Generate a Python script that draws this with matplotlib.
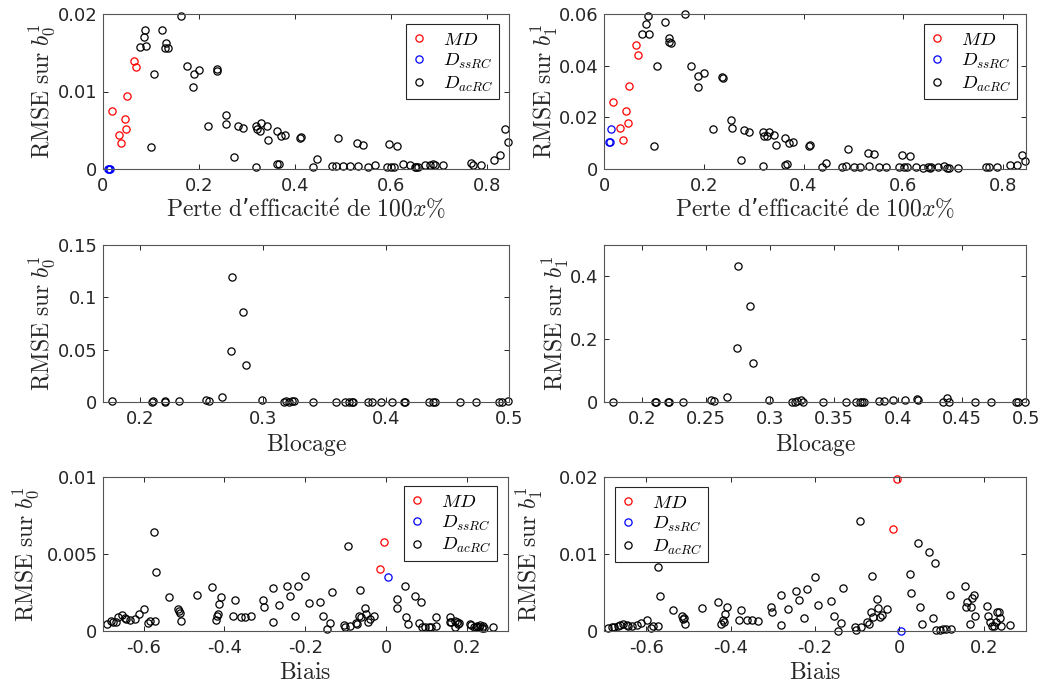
import matplotlib
matplotlib.use("Agg")
import matplotlib.pyplot as plt
from matplotlib.ticker import FuncFormatter

plt.rcParams['mathtext.fontset'] = 'cm'
plt.rcParams['font.family'] = ['DejaVu Sans']

# --- Perte d'efficacite (rangee du haut) ---
perte_md = [0.019, 0.033, 0.038, 0.045, 0.048, 0.050, 0.065, 0.069]
perte_md_b0 = [0.0075, 0.0044, 0.0033, 0.0065, 0.0052, 0.0094, 0.0140, 0.0131]
perte_md_b1 = [0.0259, 0.0160, 0.0112, 0.0223, 0.0180, 0.0322, 0.0479, 0.0442]
perte_ss = [0.011, 0.012, 0.015]
perte_ss_b0 = [0.0, 0.0, 0.0]
perte_ss_b1 = [0.0103, 0.0106, 0.0155]
perte_ac = [0.077, 0.085, 0.088, 0.090, 0.101, 0.107, 0.122, 0.130, 0.131, 0.135,
            0.162, 0.174, 0.188, 0.189, 0.201, 0.219, 0.237, 0.238, 0.2555, 0.257,
            0.274, 0.281, 0.291, 0.319, 0.3195, 0.3205, 0.327, 0.330, 0.3415, 0.344,
            0.362, 0.363, 0.366, 0.371, 0.379, 0.411, 0.413, 0.437, 0.445, 0.478,
            0.485, 0.489, 0.501, 0.514, 0.530, 0.532, 0.542, 0.552, 0.566, 0.591,
            0.5965, 0.601, 0.607, 0.613, 0.626, 0.640, 0.650, 0.653, 0.656, 0.670,
            0.681, 0.687, 0.692, 0.709, 0.766, 0.771, 0.787, 0.814, 0.828, 0.8376, 0.844]
perte_ac_b0 = [0.0157, 0.0170, 0.0179, 0.0159, 0.0028, 0.0123, 0.0179, 0.0156, 0.0162, 0.0156,
               0.0198, 0.0133, 0.0106, 0.0122, 0.0128, 0.0055, 0.0129, 0.0127, 0.0070, 0.0058,
               0.0016, 0.0056, 0.0053, 0.0056, 0.0003, 0.0051, 0.0049, 0.0059, 0.0055, 0.0037,
               0.0049, 0.0006, 0.0006, 0.0043, 0.0044, 0.0040, 0.0041, 0.0003, 0.0013, 0.0004,
               0.0004, 0.0040, 0.0004, 0.0004, 0.0033, 0.0004, 0.0031, 0.0003, 0.0005, 0.0003,
               0.0032, 0.0003, 0.0003, 0.0030, 0.0006, 0.0005, 0.0003, 0.0003, 0.0003, 0.0005,
               0.0005, 0.0006, 0.0005, 0.0005, 0.0008, 0.0005, 0.0005, 0.0011, 0.0018, 0.0052, 0.0035]
perte_ac_b1 = [0.0524, 0.0563, 0.0591, 0.0524, 0.0088, 0.0400, 0.0569, 0.0493, 0.0509, 0.0488,
               0.0600, 0.0398, 0.0317, 0.0361, 0.0371, 0.0155, 0.0355, 0.0353, 0.0191, 0.0160,
               0.0034, 0.0152, 0.0142, 0.0143, 0.0010, 0.0126, 0.0126, 0.0143, 0.0133, 0.0091,
               0.0119, 0.0016, 0.0019, 0.0102, 0.0104, 0.0090, 0.0091, 0.0006, 0.0023, 0.0008,
               0.0010, 0.0076, 0.0008, 0.0008, 0.0061, 0.0012, 0.0058, 0.0008, 0.0008, 0.0008,
               0.0054, 0.0008, 0.0008, 0.0049, 0.0008, 0.0004, 0.0008, 0.0004, 0.0006, 0.0008,
               0.0010, 0.0004, 0.0004, 0.0004, 0.0008, 0.0008, 0.0008, 0.0014, 0.0017, 0.0053, 0.0031]

# --- Blocage (rangee du milieu) ---
blocage = [0.177, 0.210, 0.2105, 0.220, 0.2205, 0.232, 0.254, 0.256, 0.2665, 0.274,
           0.275, 0.284, 0.2865, 0.299, 0.317, 0.319, 0.321, 0.324, 0.3255, 0.341,
           0.359, 0.367, 0.370, 0.372, 0.3735, 0.385, 0.389, 0.396, 0.405, 0.415,
           0.4155, 0.435, 0.438, 0.440, 0.460, 0.473, 0.492, 0.494, 0.4995]
blocage_b0 = [0.0005, 0.0004, 0.0006, 0.0004, 0.0006, 0.0007, 0.0022, 0.0010, 0.0045, 0.0487,
              0.119, 0.0863, 0.035, 0.0022, 0.0002, 0.0005, 0.0003, 0.0010, 0.0007, 0.0002,
              0.0002, 0.0002, 0.0002, 0.0002, 0.0002, 0.0002, 0.0002, 0.0002, 0.0002, 0.0002,
              0.0003, 0.0002, 0.0002, 0.0003, 0.0002, 0.0002, 0.0004, 0.0004, 0.0005]
blocage_b1 = [0.0005, 0.0005, 0.001, 0.001, 0.0005, 0.001, 0.0074, 0.002, 0.0149, 0.173,
              0.432, 0.305, 0.123, 0.0074, 0.0005, 0.001, 0.002, 0.0074, 0.001, 0.001,
              0.001, 0.001, 0.001, 0.001, 0.001, 0.004, 0.004, 0.0074, 0.0074, 0.0096,
              0.0074, 0.0005, 0.0138, 0.001, 0.0005, 0.0005, 0.0005, 0.0005, 0.001]

# --- Biais (rangee du bas) ---
biais_md = [-0.015, -0.005]
biais_md_b0 = [0.0040, 0.0058]
biais_md_b1 = [0.0132, 0.0197]
biais_ss = [0.004]
biais_ss_b0 = [0.0035]
biais_ss_b1 = [0.0]
biais_ac = [-0.690, -0.680, -0.676, -0.668, -0.662, -0.654, -0.645, -0.642, -0.634, -0.622,
            -0.612, -0.599, -0.589, -0.584, -0.573, -0.571, -0.568, -0.536, -0.514, -0.512,
            -0.510, -0.508, -0.468, -0.431, -0.422, -0.418, -0.416, -0.414, -0.409, -0.380,
            -0.375, -0.360, -0.350, -0.335, -0.304, -0.303, -0.281, -0.280, -0.265, -0.246,
            -0.239, -0.225, -0.219, -0.200, -0.192, -0.163, -0.156, -0.146, -0.139, -0.134,
            -0.106, -0.103, -0.094, -0.091, -0.076, -0.072, -0.067, -0.065, -0.062, -0.053,
            -0.051, -0.045, -0.041, -0.030, 0.026, 0.027, 0.045, 0.049, 0.054, 0.070,
            0.080, 0.085, 0.087, 0.096, 0.104, 0.110, 0.121, 0.122, 0.156, 0.157,
            0.160, 0.168, 0.169, 0.173, 0.176, 0.178, 0.207, 0.209, 0.215, 0.220,
            0.224, 0.228, 0.231, 0.235, 0.239, 0.241, 0.262]
biais_ac_b0 = [0.00045, 0.00067, 0.00060, 0.00060, 0.00093, 0.00106, 0.00086, 0.00080, 0.00069, 0.00076,
               0.00110, 0.00140, 0.00052, 0.00065, 0.00640, 0.00067, 0.00384, 0.00218, 0.00145, 0.00132,
               0.00117, 0.00067, 0.00233, 0.00283, 0.00071, 0.00100, 0.00108, 0.00173, 0.00222, 0.00100,
               0.00200, 0.00093, 0.00093, 0.00100, 0.00201, 0.00153, 0.00276, 0.00060, 0.00168, 0.00294,
               0.00229, 0.00100, 0.00294, 0.00359, 0.00179, 0.00188, 0.00100, 0.00015, 0.00054, 0.00253,
               0.00037, 0.00024, 0.00551, 0.00032, 0.00052, 0.00045, 0.00100, 0.00263, 0.00090, 0.00147,
               0.00108, 0.00060, 0.00076, 0.00100, 0.00210, 0.00149, 0.00289, 0.00093, 0.00043, 0.00229,
               0.00052, 0.00188, 0.00028, 0.00028, 0.00028, 0.00028, 0.00089, 0.00035, 0.00089, 0.00060,
               0.00056, 0.00024, 0.00067, 0.00060, 0.00043, 0.00050, 0.00048, 0.00037, 0.00026, 0.00028,
               0.00032, 0.00028, 0.00037, 0.00017, 0.00030, 0.00020, 0.00024]
biais_ac_b1 = [0.00035, 0.00056, 0.00056, 0.00069, 0.00078, 0.00091, 0.00078, 0.00069, 0.00065, 0.00074,
               0.00108, 0.00143, 0.00039, 0.00065, 0.00830, 0.00065, 0.00455, 0.00273, 0.00200, 0.00156,
               0.00173, 0.00091, 0.00294, 0.00372, 0.00091, 0.00143, 0.00120, 0.00220, 0.00307, 0.00143,
               0.00273, 0.00139, 0.00143, 0.00130, 0.00316, 0.00242, 0.00463, 0.00082, 0.00281, 0.00524,
               0.00403, 0.00173, 0.00550, 0.00706, 0.00333, 0.00385, 0.00200, 0.00000, 0.00104, 0.00563,
               0.00056, 0.00017, 0.01424, 0.00056, 0.00113, 0.00087, 0.00242, 0.00719, 0.00186, 0.00416,
               0.00303, 0.00186, 0.00208, 0.00286, 0.00740, 0.00500, 0.01147, 0.00316, 0.00091, 0.01030,
               0.00164, 0.00887, 0.00013, 0.00017, 0.00022, 0.00022, 0.00463, 0.00022, 0.00589, 0.00316,
               0.00372, 0.00091, 0.00316, 0.00433, 0.00463, 0.00195, 0.00325, 0.00200, 0.00121, 0.00069,
               0.00069, 0.00121, 0.00251, 0.00242, 0.00169, 0.00069, 0.00074]

labels = [r'$MD$', r'$D_{ssRC}$', r'$D_{acRC}$']
gray = '#262626'
fmt = FuncFormatter(lambda v, p: '%g' % round(v, 6))


def scatter(ax, x, y, color, label=None):
    ax.plot(x, y, 'o', mfc='none', mec=color, ms=5.2, mew=0.9, label=label, clip_on=False)


def style(ax, xlim, xticks, ylim, yticks, xlabel, ylabel, ylab_x):
    ax.set_xlim(xlim)
    ax.set_ylim(ylim)
    ax.set_xticks(xticks)
    ax.set_yticks(yticks)
    ax.xaxis.set_major_formatter(fmt)
    ax.yaxis.set_major_formatter(fmt)
    ax.tick_params(direction='in', length=3.5, width=0.7, top=True, right=True,
                   labelsize=13, colors=gray, labelcolor=gray)
    ax.tick_params(axis='x', pad=6)
    ax.tick_params(axis='y', pad=4)
    for s in ax.spines.values():
        s.set_color('#555555')
        s.set_linewidth(0.8)
    ax.set_xlabel(xlabel, fontsize=17, labelpad=2, color=gray)
    ax.set_ylabel(ylabel, fontsize=17, color=gray)
    ax.yaxis.set_label_coords(ylab_x, 0.5)


def legend(ax, loc, anchor):
    leg = ax.legend(loc=loc, bbox_to_anchor=anchor, borderaxespad=0, fontsize=13.5,
                    handlelength=0.8, handletextpad=0.9, labelspacing=0.12,
                    borderpad=0.3, fancybox=False, framealpha=1)
    leg.get_frame().set_edgecolor(gray)
    leg.get_frame().set_linewidth(0.8)


W, H = 1043, 691
fig = plt.figure(figsize=(W / 100, H / 100), dpi=100)


def add_axes(left, right, top, bottom):
    return fig.add_axes([left / W, 1 - bottom / H, (right - left) / W, (bottom - top) / H])


ax1 = add_axes(103, 509, 14, 169)
ax2 = add_axes(604, 1026, 14, 169)
ax3 = add_axes(103, 509, 245, 402)
ax4 = add_axes(604, 1026, 245, 402)
ax5 = add_axes(103, 508, 477, 631)
ax6 = add_axes(604, 1026, 477, 631)

xlab_perte = r"$\mathrm{Perte\ d}$" + "\u2019" + r"$\mathrm{efficacit\acute{e}\ de\ 100}x\%$"
ylab0 = r'$\mathrm{RMSE\ sur\ }b_0^1$'
ylab1 = r'$\mathrm{RMSE\ sur\ }b_1^1$'

# haut gauche
scatter(ax1, perte_md, perte_md_b0, 'red', labels[0])
scatter(ax1, perte_ss, perte_ss_b0, 'blue', labels[1])
scatter(ax1, perte_ac, perte_ac_b0, 'black', labels[2])
style(ax1, (0, 0.846), [0, 0.2, 0.4, 0.6, 0.8], (0, 0.02), [0, 0.01, 0.02],
      xlab_perte, ylab0, -0.113)
legend(ax1, 'upper right', (0.975, 0.935))

# haut droite
scatter(ax2, perte_md, perte_md_b1, 'red', labels[0])
scatter(ax2, perte_ss, perte_ss_b1, 'blue', labels[1])
scatter(ax2, perte_ac, perte_ac_b1, 'black', labels[2])
style(ax2, (0, 0.846), [0, 0.2, 0.4, 0.6, 0.8], (0, 0.06), [0, 0.02, 0.04, 0.06],
      xlab_perte, ylab1, -0.104)
legend(ax2, 'upper right', (0.978, 0.935))

# milieu
scatter(ax3, blocage, blocage_b0, 'black')
style(ax3, (0.17, 0.5), [0.2, 0.3, 0.4, 0.5], (0, 0.15), [0, 0.05, 0.1, 0.15],
      r'$\mathrm{Blocage}$', ylab0, -0.113)
scatter(ax4, blocage, blocage_b1, 'black')
style(ax4, (0.17, 0.5), [0.2, 0.25, 0.3, 0.35, 0.4, 0.45, 0.5], (0, 0.5), [0, 0.2, 0.4],
      r'$\mathrm{Blocage}$', ylab1, -0.078)

# bas
scatter(ax5, biais_md, biais_md_b0, 'red', labels[0])
scatter(ax5, biais_ss, biais_ss_b0, 'blue', labels[1])
scatter(ax5, biais_ac, biais_ac_b0, 'black', labels[2])
style(ax5, (-0.7, 0.3), [-0.6, -0.4, -0.2, 0, 0.2], (0, 0.01), [0, 0.005, 0.01],
      r'$\mathrm{Biais}$', ylab0, -0.153)
legend(ax5, 'upper right', (0.973, 0.942))

scatter(ax6, biais_md, biais_md_b1, 'red', labels[0])
scatter(ax6, biais_ss, biais_ss_b1, 'blue', labels[1])
scatter(ax6, biais_ac, biais_ac_b1, 'black', labels[2])
style(ax6, (-0.7, 0.3), [-0.6, -0.4, -0.2, 0, 0.2], (0, 0.02), [0, 0.01, 0.02],
      r'$\mathrm{Biais}$', ylab1, -0.14)
legend(ax6, 'upper left', (0.026, 0.935))

fig.savefig('out.png', dpi=100)
